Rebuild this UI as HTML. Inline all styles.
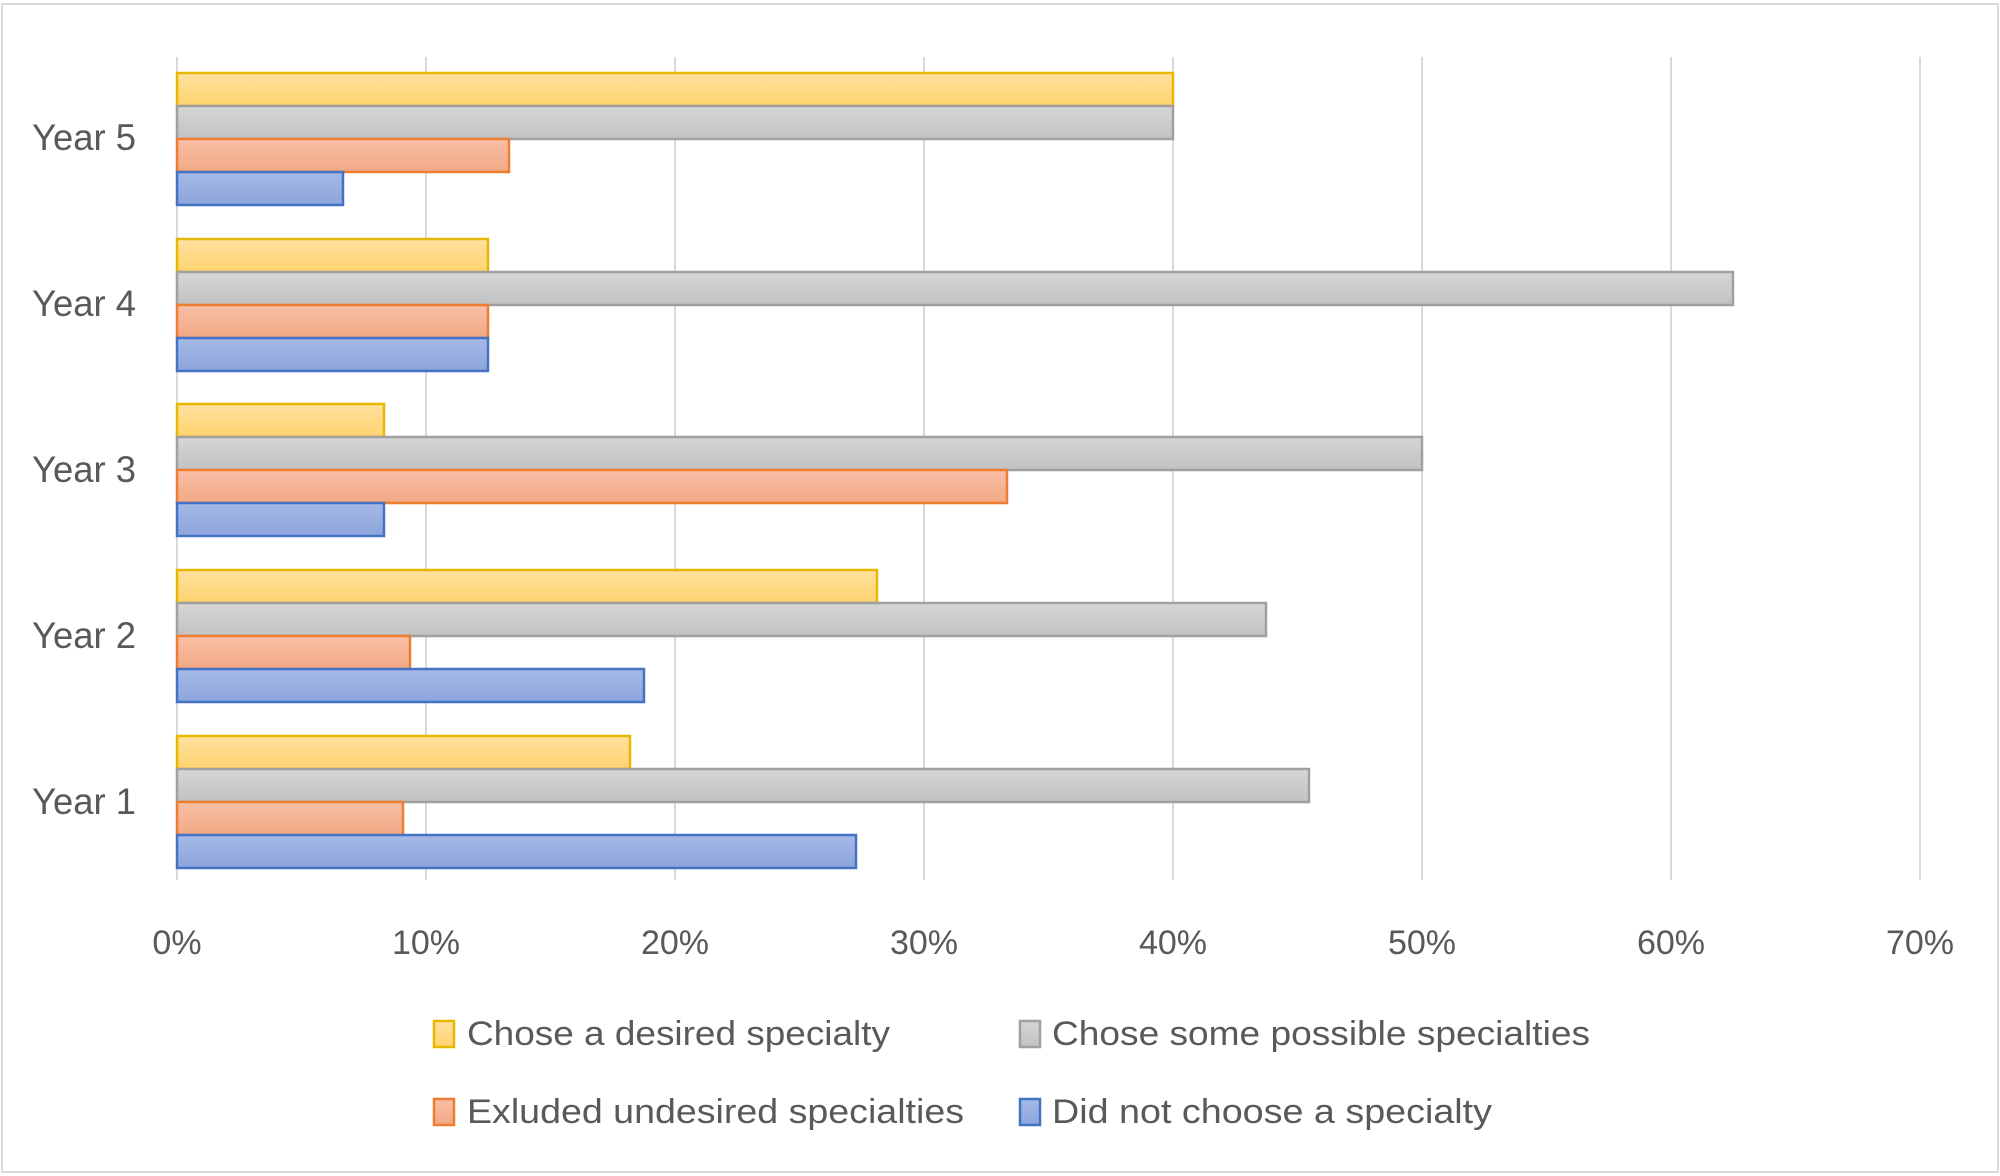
<!DOCTYPE html>
<html><head><meta charset="utf-8"><style>
html,body{margin:0;padding:0;background:#fff}
svg{display:block}
text{font-family:"Liberation Sans",sans-serif;fill:#595959}
</style></head><body>
<svg width="2000" height="1176" viewBox="0 0 2000 1176" xmlns="http://www.w3.org/2000/svg">
<defs>
<linearGradient id="gy" x1="0" y1="0" x2="0" y2="1"><stop offset="0" stop-color="#FFE1A0"/><stop offset="1" stop-color="#FFD36E"/></linearGradient>
<linearGradient id="gg" x1="0" y1="0" x2="0" y2="1"><stop offset="0" stop-color="#D6D6D6"/><stop offset="1" stop-color="#C2C2C2"/></linearGradient>
<linearGradient id="go" x1="0" y1="0" x2="0" y2="1"><stop offset="0" stop-color="#F8BFA6"/><stop offset="1" stop-color="#F2A985"/></linearGradient>
<linearGradient id="gb" x1="0" y1="0" x2="0" y2="1"><stop offset="0" stop-color="#A6B9E6"/><stop offset="1" stop-color="#8CA5DC"/></linearGradient>
</defs>
<rect x="2" y="4" width="1996" height="1168" fill="#fff" stroke="#D9D9D9" stroke-width="2"/>
<g stroke="#D9D9D9" stroke-width="2">
<line x1="177" y1="57" x2="177" y2="880"/>
<line x1="426" y1="57" x2="426" y2="880"/>
<line x1="675" y1="57" x2="675" y2="880"/>
<line x1="924" y1="57" x2="924" y2="880"/>
<line x1="1173" y1="57" x2="1173" y2="880"/>
<line x1="1422" y1="57" x2="1422" y2="880"/>
<line x1="1671" y1="57" x2="1671" y2="880"/>
<line x1="1920" y1="57" x2="1920" y2="880"/>
</g>
<g stroke-width="2.5">
<rect x="177" y="73" width="996" height="33" fill="url(#gy)" stroke="#E8B800"/>
<rect x="177" y="106" width="996" height="33" fill="url(#gg)" stroke="#A0A0A0"/>
<rect x="177" y="139" width="332" height="33" fill="url(#go)" stroke="#ED7D31"/>
<rect x="177" y="172" width="166" height="33" fill="url(#gb)" stroke="#4472C4"/>
<rect x="177" y="239" width="311" height="33" fill="url(#gy)" stroke="#E8B800"/>
<rect x="177" y="272" width="1556" height="33" fill="url(#gg)" stroke="#A0A0A0"/>
<rect x="177" y="305" width="311" height="33" fill="url(#go)" stroke="#ED7D31"/>
<rect x="177" y="338" width="311" height="33" fill="url(#gb)" stroke="#4472C4"/>
<rect x="177" y="404" width="207" height="33" fill="url(#gy)" stroke="#E8B800"/>
<rect x="177" y="437" width="1245" height="33" fill="url(#gg)" stroke="#A0A0A0"/>
<rect x="177" y="470" width="830" height="33" fill="url(#go)" stroke="#ED7D31"/>
<rect x="177" y="503" width="207" height="33" fill="url(#gb)" stroke="#4472C4"/>
<rect x="177" y="570" width="700" height="33" fill="url(#gy)" stroke="#E8B800"/>
<rect x="177" y="603" width="1089" height="33" fill="url(#gg)" stroke="#A0A0A0"/>
<rect x="177" y="636" width="233" height="33" fill="url(#go)" stroke="#ED7D31"/>
<rect x="177" y="669" width="467" height="33" fill="url(#gb)" stroke="#4472C4"/>
<rect x="177" y="736" width="453" height="33" fill="url(#gy)" stroke="#E8B800"/>
<rect x="177" y="769" width="1132" height="33" fill="url(#gg)" stroke="#A0A0A0"/>
<rect x="177" y="802" width="226" height="33" fill="url(#go)" stroke="#ED7D31"/>
<rect x="177" y="835" width="679" height="33" fill="url(#gb)" stroke="#4472C4"/>
</g>
<g font-size="37">
<text x="32" y="150" textLength="104" lengthAdjust="spacingAndGlyphs">Year 5</text>
<text x="32" y="316" textLength="104" lengthAdjust="spacingAndGlyphs">Year 4</text>
<text x="32" y="482" textLength="104" lengthAdjust="spacingAndGlyphs">Year 3</text>
<text x="32" y="648" textLength="104" lengthAdjust="spacingAndGlyphs">Year 2</text>
<text x="32" y="814" textLength="104" lengthAdjust="spacingAndGlyphs">Year 1</text>
</g>
<g font-size="34" text-anchor="middle">
<text x="177" y="954">0%</text>
<text x="426" y="954">10%</text>
<text x="675" y="954">20%</text>
<text x="924" y="954">30%</text>
<text x="1173" y="954">40%</text>
<text x="1422" y="954">50%</text>
<text x="1671" y="954">60%</text>
<text x="1920" y="954">70%</text>
</g>
<g stroke-width="2.5">
<rect x="434" y="1021" width="20" height="26" fill="url(#gy)" stroke="#E8B800"/>
<rect x="1020" y="1021" width="20" height="26" fill="url(#gg)" stroke="#A0A0A0"/>
<rect x="434" y="1099" width="20" height="26" fill="url(#go)" stroke="#ED7D31"/>
<rect x="1020" y="1099" width="20" height="26" fill="url(#gb)" stroke="#4472C4"/>
</g>
<g font-size="34">
<text x="467" y="1045" textLength="423" lengthAdjust="spacingAndGlyphs">Chose a desired specialty</text>
<text x="1052" y="1045" textLength="538" lengthAdjust="spacingAndGlyphs">Chose some possible specialties</text>
<text x="467" y="1123" textLength="497" lengthAdjust="spacingAndGlyphs">Exluded undesired specialties</text>
<text x="1052" y="1123" textLength="440" lengthAdjust="spacingAndGlyphs">Did not choose a specialty</text>
</g>
</svg>
</body></html>
